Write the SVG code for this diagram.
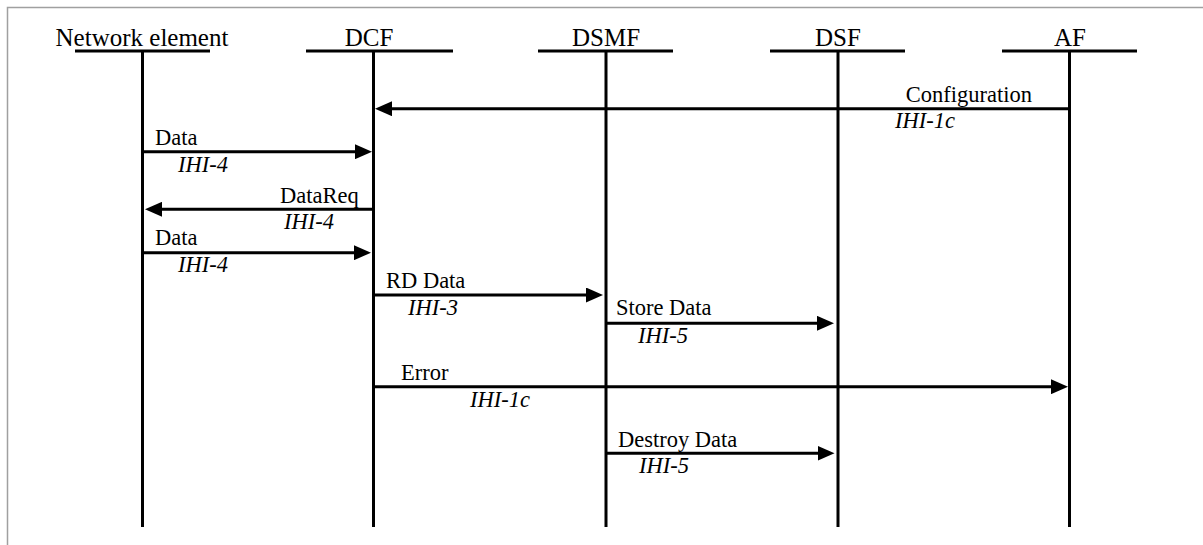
<svg xmlns="http://www.w3.org/2000/svg" width="1203" height="545" viewBox="0 0 1203 545">
<style>
.frame{stroke:#a0a0a0;stroke-width:1.5;fill:none}
.life{stroke:#000;stroke-width:3;fill:none}
.bar{stroke:#000;stroke-width:3;fill:none}
.msg{stroke:#000;stroke-width:3;fill:none;marker-end:url(#ah)}
.hdr{font-family:"Liberation Serif","Times New Roman",serif;font-size:25px;fill:#000;text-anchor:middle}
.lbl{font-family:"Liberation Serif","Times New Roman",serif;font-size:22.5px;fill:#000}
.itf{font-family:"Liberation Serif","Times New Roman",serif;font-size:22.5px;font-style:italic;fill:#000}
</style>
<defs>
<marker id="ah" markerUnits="userSpaceOnUse" viewBox="0 0 17 15" refX="9" refY="7.5" markerWidth="17" markerHeight="15" orient="auto">
<path d="M0,0 L17,7.5 L0,15 z" fill="#000"/>
</marker>
</defs>
<rect width="1203" height="545" fill="#fff"/>
<path class="frame" d="M7.5,545 V7.5 H1203"/>
<g id="ne">
<text class="hdr" x="142" y="46">Network element</text>
<line class="bar" x1="75" y1="51" x2="210" y2="51"/>
<line class="life" x1="142.5" y1="51" x2="142.5" y2="527"/>
</g>
<g id="dcf">
<text class="hdr" x="369" y="46">DCF</text>
<line class="bar" x1="306" y1="51" x2="453" y2="51"/>
<line class="life" x1="373.5" y1="51" x2="373.5" y2="527"/>
</g>
<g id="dsmf">
<text class="hdr" x="606" y="46">DSMF</text>
<line class="bar" x1="538" y1="51" x2="673" y2="51"/>
<line class="life" x1="606" y1="51" x2="606" y2="527"/>
</g>
<g id="dsf">
<text class="hdr" x="838" y="46">DSF</text>
<line class="bar" x1="770" y1="51" x2="905" y2="51"/>
<line class="life" x1="838" y1="51" x2="838" y2="527"/>
</g>
<g id="af">
<text class="hdr" x="1070" y="46">AF</text>
<line class="bar" x1="1002" y1="51" x2="1137" y2="51"/>
<line class="life" x1="1069.5" y1="51" x2="1069.5" y2="527"/>
</g>
<g id="connectors">
<line class="msg" x1="1069.5" y1="108.7" x2="383" y2="108.7"/>
<text class="lbl" x="1032" y="102" text-anchor="end">Configuration</text>
<text class="itf" x="895" y="128">IHI-1c</text>

<line class="msg" x1="142.5" y1="151.7" x2="364" y2="151.7"/>
<text class="lbl" x="155" y="145">Data</text>
<text class="itf" x="178" y="172">IHI-4</text>

<line class="msg" x1="373.5" y1="209.3" x2="153" y2="209.3"/>
<text class="lbl" x="280" y="203">DataReq</text>
<text class="itf" x="284" y="229">IHI-4</text>

<line class="msg" x1="142.5" y1="252.7" x2="363" y2="252.7"/>
<text class="lbl" x="155" y="245">Data</text>
<text class="itf" x="178" y="272">IHI-4</text>

<line class="msg" x1="373.5" y1="295" x2="595" y2="295"/>
<text class="lbl" x="386" y="288">RD Data</text>
<text class="itf" x="408" y="315">IHI-3</text>

<line class="msg" x1="606" y1="323.3" x2="826" y2="323.3"/>
<text class="lbl" x="616" y="315">Store Data</text>
<text class="itf" x="638" y="343">IHI-5</text>

<line class="msg" x1="373.5" y1="386.7" x2="1060" y2="386.7"/>
<text class="lbl" x="401" y="380">Error</text>
<text class="itf" x="470" y="407">IHI-1c</text>

<line class="msg" x1="606" y1="453.3" x2="826.5" y2="453.3"/>
<text class="lbl" x="618" y="447">Destroy Data</text>
<text class="itf" x="639" y="473">IHI-5</text>
</g>
</svg>
